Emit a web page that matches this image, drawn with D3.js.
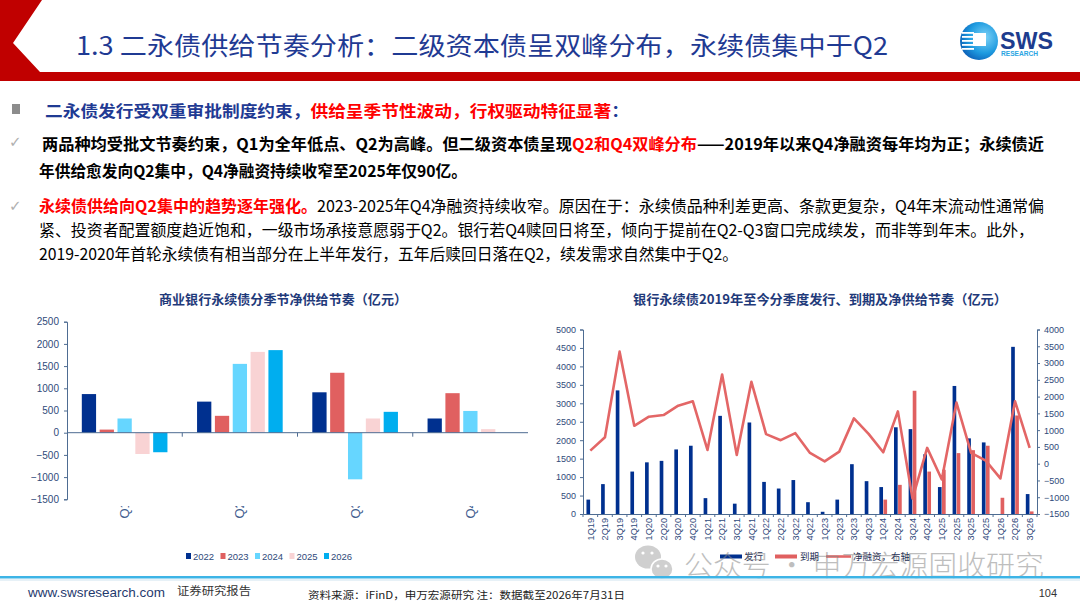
<!DOCTYPE html>
<html>
<head>
<meta charset="utf-8">
<script src="https://cdn.jsdelivr.net/npm/d3@7/dist/d3.min.js"></script>
<style>
  html, body { margin: 0; padding: 0; background: #fff; }
  svg { display: block; font-family: "Noto Sans CJK SC", "Liberation Sans", sans-serif; }
</style>
</head>
<body>
<svg id="slide" width="1080" height="608"></svg>
<script>
// ---- left chart: quarterly net supply by year (亿元)
const seasonLabels = ["Q1", "Q2", "Q3", "Q4"];
const yearKeys = ["2022", "2023", "2024", "2025", "2026"];
const net2022 = [870, 700, 910, 320];
const net2023 = [70, 380, 1350, 890];
const net2024 = [320, 1550, -1050, 490];
const net2025 = [-480, 1820, 320, 80];
const net2026 = [-440, 1860, 470, null];
const leftTicks = [-1500, -1000, -500, 0, 500, 1000, 1500, 2000, 2500];

// ---- right chart: issuance / maturity / net since 2019 (亿元)
const quarters = ["1Q19","2Q19","3Q19","4Q19","1Q20","2Q20","3Q20","4Q20",
  "1Q21","2Q21","3Q21","4Q21","1Q22","2Q22","3Q22","4Q22",
  "1Q23","2Q23","3Q23","4Q23","1Q24","2Q24","3Q24","4Q24",
  "1Q25","2Q25","3Q25","4Q25","1Q26","2Q26","3Q26"];
const issuance = [390, 810, 3350, 1150, 1400, 1440, 1750, 1850,
  430, 2660, 280, 2480, 870, 690, 920, 320,
  60, 390, 1350, 890, 730, 2350, 2300, 1620,
  730, 3470, 2050, 1940, 0, 4530, 540];
const maturity = [0, 0, 0, 0, 0, 0, 0, 0,
  0, 0, 0, 0, 0, 0, 0, 0,
  0, 0, 0, 0, 390, 790, 3340, 1150,
  1200, 1650, 1730, 1850, 440, 2670, 70];
const netFinancing = [390, 790, 3340, 1130, 1400, 1450, 1730, 1860,
  410, 2660, 260, 2440, 880, 700, 910, 320,
  70, 360, 1350, 890, 340, 1560, -1040, 470,
  -470, 1820, 320, 90, -440, 1860, 470];
const leftAxisTicks = [0, 500, 1000, 1500, 2000, 2500, 3000, 3500, 4000, 4500, 5000];
const rightAxisTicks = [-1500, -1000, -500, 0, 500, 1000, 1500, 2000, 2500, 3000, 3500, 4000];

const yearColors = ["#00308F", "#E06060", "#66D6FF", "#F9D3D4", "#00AEEF"];
const navy = "#1F3A93";
const red = "#FF0000";
const axisCol = "#4E6C92";
const labCol = "#2F4A7A";
const plain = d3.format("d");

const svg = d3.select("#slide");

// ---------- header ----------
svg.append("polygon")
  .attr("points", "0,0 42,0 13,43 40,72 1080,72 1080,81 0,81")
  .attr("fill", "#C00000");

svg.append("text")
  .attr("x", 76).attr("y", 55)
  .attr("font-size", 25)
  .attr("fill", navy)
  .attr("textLength", 812).attr("lengthAdjust", "spacingAndGlyphs")
  .text("1.3 二永债供给节奏分析：二级资本债呈双峰分布，永续债集中于Q2");

// logo
const defs = svg.append("defs");
const grad = defs.append("radialGradient").attr("id", "logoGrad")
  .attr("cx", "65%").attr("cy", "40%").attr("r", "70%");
grad.append("stop").attr("offset", "0%").attr("stop-color", "#7FD3F7");
grad.append("stop").attr("offset", "60%").attr("stop-color", "#1E9BE0");
grad.append("stop").attr("offset", "100%").attr("stop-color", "#0B5DB5");
const logo = svg.append("g").attr("transform", "translate(979,41)");
logo.append("circle").attr("r", 19).attr("fill", "url(#logoGrad)");
[-8, -4, 0, 4, 8].forEach(dy => {
  logo.append("rect").attr("x", -17).attr("y", dy - 1).attr("width", 12).attr("height", 1.8).attr("fill", "#fff");
});
logo.append("rect").attr("x", -6).attr("y", -8).attr("width", 13).attr("height", 13).attr("fill", "#fff");
svg.append("text").attr("x", 1000).attr("y", 49)
  .attr("font-family", "Liberation Sans, Arial").attr("font-weight", 700)
  .attr("font-size", 24).attr("fill", "#1D3C8E")
  .attr("textLength", 53).attr("lengthAdjust", "spacingAndGlyphs").text("SWS");
svg.append("text").attr("x", 1001).attr("y", 56)
  .attr("font-family", "Liberation Sans, Arial").attr("font-weight", 700)
  .attr("font-size", 6.5).attr("fill", "#2AA5E2")
  .attr("textLength", 37).attr("lengthAdjust", "spacingAndGlyphs").text("RESEARCH");

// ---------- bullet text ----------
function richLine(x, y, parts, width, size) {
  const t = svg.append("text").attr("x", x).attr("y", y).attr("font-size", size || 16);
  parts.forEach(p => t.append("tspan")
    .attr("fill", p.c || "#000")
    .attr("font-weight", p.b ? 700 : 400)
    .text(p.t));
  if (width) t.attr("textLength", width).attr("lengthAdjust", "spacingAndGlyphs");
  return t;
}

svg.append("rect").attr("x", 12).attr("y", 104).attr("width", 8).attr("height", 10).attr("fill", "#8C8C8C");
richLine(45, 117, [
  { t: "二永债发行受双重审批制度约束，", c: navy, b: true },
  { t: "供给呈季节性波动，行权驱动特征显著", c: red, b: true },
  { t: "：", c: navy, b: true }
], 584);

[141, 205].forEach(y => svg.append("text").attr("x", 9).attr("y", y + 6)
  .attr("font-family", "DejaVu Sans").attr("font-size", 15).attr("fill", "#B0B0B0").text("✓"));

richLine(42, 149.5, [
  { t: " 两品种均受批文节奏约束，Q1为全年低点、Q2为高峰。但二级资本债呈现", b: true },
  { t: "Q2和Q4双峰分布", c: red, b: true },
  { t: "——2019年以来Q4净融资每年均为正；永续债近", b: true }
], 1002);
richLine(39, 177, [
  { t: "年供给愈发向Q2集中，Q4净融资持续收窄至2025年仅90亿。", b: true }
], 428);

richLine(39, 212, [
  { t: "永续债供给向Q2集中的趋势逐年强化。", c: red, b: true },
  { t: "2023-2025年Q4净融资持续收窄。原因在于：永续债品种利差更高、条款更复杂，Q4年末流动性通常偏" }
], 1005);
richLine(39, 236, [
  { t: "紧、投资者配置额度趋近饱和，一级市场承接意愿弱于Q2。银行若Q4赎回日将至，倾向于提前在Q2-Q3窗口完成续发，而非等到年末。此外，" }
], 995);
richLine(39, 259.5, [
  { t: "2019-2020年首轮永续债有相当部分在上半年发行，五年后赎回日落在Q2，续发需求自然集中于Q2。" }
], 699);

// ---------- left chart ----------
const L = { left: 67, right: 528, top: 321.7, bottom: 499.3 };
svg.append("text").attr("x", 283).attr("y", 304)
  .attr("text-anchor", "middle").attr("font-size", 13).attr("font-weight", 700)
  .attr("fill", "#1F3A7A").attr("textLength", 248).attr("lengthAdjust", "spacingAndGlyphs")
  .text("商业银行永续债分季节净供给节奏（亿元）");

const yearSeries = [net2022, net2023, net2024, net2025, net2026];
const xL = d3.scaleBand().domain(seasonLabels).range([L.left, L.right]);
const xLsub = d3.scaleBand().domain(yearKeys).range([0, xL.bandwidth()])
  .paddingInner(0.2).paddingOuter(0.83);
const yL = d3.scaleLinear().domain([-1500, 2500]).range([L.bottom, L.top]);

const leftRows = [];
seasonLabels.forEach((q, qi) => yearKeys.forEach((yr, yi) => {
  const v = yearSeries[yi][qi];
  if (v !== null) leftRows.push({ q, yr, v, c: yearColors[yi] });
}));
svg.append("g").selectAll("rect").data(leftRows).join("rect")
  .attr("x", d => xL(d.q) + xLsub(d.yr))
  .attr("width", xLsub.bandwidth())
  .attr("y", d => yL(Math.max(0, d.v)))
  .attr("height", d => Math.abs(yL(d.v) - yL(0)))
  .attr("fill", d => d.c);

const yAxisL = svg.append("g").attr("transform", `translate(${L.left},0)`)
  .call(d3.axisLeft(yL).tickValues(leftTicks).tickFormat(plain).tickSize(3).tickPadding(5));
yAxisL.select(".domain").attr("stroke", axisCol);
yAxisL.selectAll(".tick line").attr("stroke", axisCol);
yAxisL.selectAll(".tick text").attr("fill", labCol).attr("font-size", 10)
  .attr("font-family", "Liberation Sans, Arial");

// zero line with category ticks
svg.append("line").attr("x1", L.left).attr("x2", L.right)
  .attr("y1", yL(0)).attr("y2", yL(0)).attr("stroke", axisCol).attr("stroke-width", 1);
svg.append("g").selectAll("line").data(seasonLabels.slice(1)).join("line")
  .attr("x1", d => xL(d)).attr("x2", d => xL(d))
  .attr("y1", yL(0)).attr("y2", yL(0) + 4).attr("stroke", axisCol);

// rotated season labels (only the lead glyph shows, as in the original)
defs.append("clipPath").attr("id", "qclip").append("rect")
  .attr("x", L.left).attr("y", 506).attr("width", L.right - L.left).attr("height", 30);
svg.append("g").attr("clip-path", "url(#qclip)")
  .selectAll("text").data(seasonLabels).join("text")
  .attr("transform", d => `translate(${xL(d) + xL.bandwidth() / 2},518.5) rotate(-90)`)
  .attr("dy", "0.35em")
  .attr("font-family", "Liberation Sans, Arial").attr("font-size", 13)
  .attr("fill", "#3E5C8E")
  .text(d => d);

// legend
const legL = svg.append("g").selectAll("g").data(yearKeys).join("g")
  .attr("transform", (d, i) => `translate(${186 + i * 34.5},556)`);
legL.append("rect").attr("x", 0).attr("y", -3).attr("width", 5).attr("height", 6)
  .attr("fill", (d, i) => yearColors[i]);
legL.append("text").attr("x", 7).attr("y", 3.5)
  .attr("font-family", "Liberation Sans, Arial").attr("font-size", 9.5).attr("fill", labCol)
  .text(d => d);

// ---------- right chart ----------
const R = { left: 583, right: 1037, top: 329.5, bottom: 514 };
svg.append("text").attr("x", 820).attr("y", 304)
  .attr("text-anchor", "middle").attr("font-size", 13).attr("font-weight", 700)
  .attr("fill", "#1F3A7A").attr("textLength", 374).attr("lengthAdjust", "spacingAndGlyphs")
  .text("银行永续债2019年至今分季度发行、到期及净供给节奏（亿元）");

const xR = d3.scaleBand().domain(quarters).range([R.left, R.right]);
const xRsub = d3.scaleBand().domain(["issue", "mature"]).range([0, xR.bandwidth()])
  .paddingInner(0.1).paddingOuter(0.85);
const yRl = d3.scaleLinear().domain([0, 5000]).range([R.bottom, R.top]);
const yRr = d3.scaleLinear().domain([-1500, 4000]).range([R.bottom, R.top]);

const barRows = [];
quarters.forEach((q, i) => {
  barRows.push({ q, k: "issue", v: issuance[i], c: "#00308F" });
  barRows.push({ q, k: "mature", v: maturity[i], c: "#E06060" });
});
svg.append("g").selectAll("rect").data(barRows.filter(d => d.v > 0)).join("rect")
  .attr("x", d => xR(d.q) + xRsub(d.k))
  .attr("width", xRsub.bandwidth())
  .attr("y", d => yRl(d.v))
  .attr("height", d => yRl(0) - yRl(d.v))
  .attr("fill", d => d.c);

const netLine = d3.line()
  .x((d, i) => xR(quarters[i]) + xR.bandwidth() / 2)
  .y(d => yRr(d));
svg.append("path").datum(netFinancing)
  .attr("d", netLine).attr("fill", "none")
  .attr("stroke", "#E36666").attr("stroke-width", 2.6).attr("stroke-linejoin", "round");

const axL = svg.append("g").attr("transform", `translate(${R.left},0)`)
  .call(d3.axisLeft(yRl).tickValues(leftAxisTicks).tickFormat(plain).tickSize(3).tickPadding(4));
const axR = svg.append("g").attr("transform", `translate(${R.right},0)`)
  .call(d3.axisRight(yRr).tickValues(rightAxisTicks).tickFormat(plain).tickSize(3).tickPadding(4));
const axX = svg.append("g").attr("transform", `translate(0,${R.bottom})`)
  .call(d3.axisBottom(xR).tickSize(0).tickFormat(""));
[axL, axR, axX].forEach(a => {
  a.select(".domain").attr("stroke", axisCol);
  a.selectAll(".tick line").attr("stroke", axisCol);
  a.selectAll(".tick text").attr("fill", labCol).attr("font-size", 9)
    .attr("font-family", "Liberation Sans, Arial");
});
// boundary ticks under the category axis
svg.append("g").selectAll("line").data(quarters.concat(["end"])).join("line")
  .attr("x1", (d, i) => R.left + i * xR.step()).attr("x2", (d, i) => R.left + i * xR.step())
  .attr("y1", R.bottom).attr("y2", R.bottom + 3).attr("stroke", axisCol);

svg.append("g").selectAll("text").data(quarters).join("text")
  .attr("transform", d => `translate(${xR(d) + xR.bandwidth() / 2},518) rotate(-90)`)
  .attr("text-anchor", "end").attr("dy", "0.35em")
  .attr("font-family", "Liberation Sans, Arial").attr("font-size", 9.2)
  .attr("fill", labCol)
  .text(d => d);

// legend
const legR = svg.append("g").attr("font-size", 9.5).attr("fill", "#1F2F55");
legR.append("line").attr("x1", 720).attr("x2", 742).attr("y1", 556.5).attr("y2", 556.5)
  .attr("stroke", "#00308F").attr("stroke-width", 4);
legR.append("text").attr("x", 744).attr("y", 560).text("发行");
legR.append("line").attr("x1", 775).attr("x2", 797).attr("y1", 556.5).attr("y2", 556.5)
  .attr("stroke", "#E06060").attr("stroke-width", 4);
legR.append("text").attr("x", 800).attr("y", 560).text("到期");
legR.append("line").attr("x1", 826).attr("x2", 851).attr("y1", 556.5).attr("y2", 556.5)
  .attr("stroke", "#E36666").attr("stroke-width", 2.6);
legR.append("text").attr("x", 853).attr("y", 560).text("净融资，右轴");

// ---------- watermark ----------
const wm = svg.append("g").attr("opacity", 0.55);
wm.append("ellipse").attr("cx", 648).attr("cy", 557).attr("rx", 13).attr("ry", 11.5).attr("fill", "#A8A8A8");
wm.append("ellipse").attr("cx", 662).attr("cy", 569).attr("rx", 11).attr("ry", 10)
  .attr("fill", "#A8A8A8").attr("stroke", "#fff").attr("stroke-width", 1.5);
[[643, 553], [652, 553], [658, 566], [666, 566]].forEach(p =>
  wm.append("circle").attr("cx", p[0]).attr("cy", p[1]).attr("r", 1.6).attr("fill", "#fff"));
wm.append("text").attr("x", 684).attr("y", 576)
  .attr("font-size", 28).attr("font-weight", 300).attr("fill", "#8A8A8A")
  .attr("textLength", 360).attr("lengthAdjust", "spacingAndGlyphs")
  .text("公众号 · 申万宏源固收研究");

// ---------- footer ----------
svg.append("rect").attr("x", 0).attr("y", 576).attr("width", 1080).attr("height", 2.5).attr("fill", "#3DB4E6");
svg.append("rect").attr("x", 0).attr("y", 579.5).attr("width", 1080).attr("height", 1).attr("fill", "#CFE3F0");
svg.append("text").attr("x", 28).attr("y", 597)
  .attr("font-family", "Liberation Sans Narrow, Liberation Sans, Arial").attr("font-size", 13.5)
  .attr("fill", "#1F3A6E").attr("textLength", 137).attr("lengthAdjust", "spacingAndGlyphs")
  .text("www.swsresearch.com");
svg.append("text").attr("x", 177).attr("y", 595)
  .attr("font-size", 11).attr("fill", "#333")
  .attr("textLength", 74).attr("lengthAdjust", "spacingAndGlyphs").text("证券研究报告");
svg.append("text").attr("x", 308).attr("y", 599)
  .attr("font-size", 10.5).attr("fill", "#222")
  .attr("textLength", 317).attr("lengthAdjust", "spacingAndGlyphs")
  .text("资料来源：iFinD，申万宏源研究  注：数据截至2026年7月31日");
svg.append("text").attr("x", 1057).attr("y", 597).attr("text-anchor", "end")
  .attr("font-family", "Liberation Sans, Arial").attr("font-size", 11).attr("fill", "#333")
  .text("104");
</script>
</body>
</html>
